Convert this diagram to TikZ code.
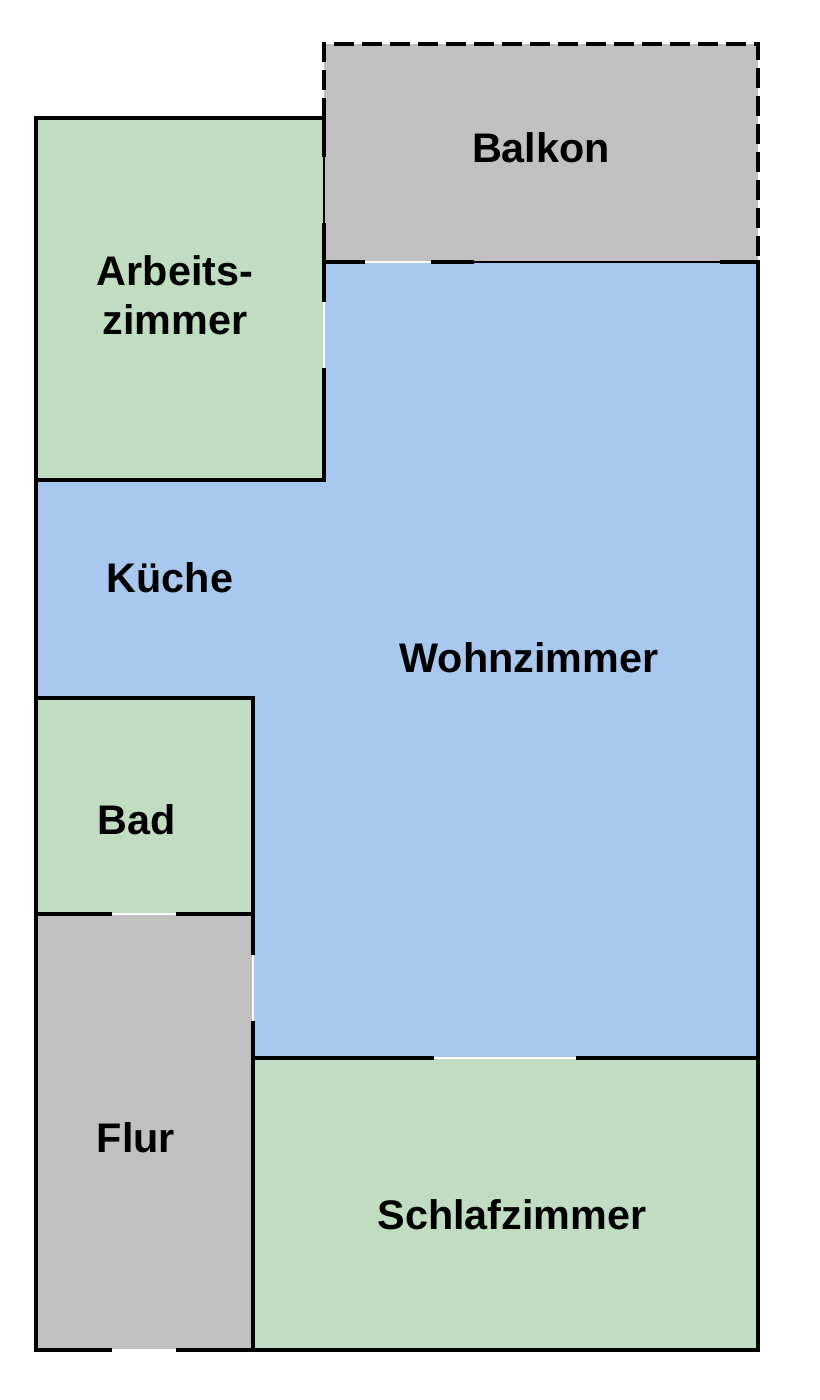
\documentclass[tikz,border=0pt]{standalone}
\usepackage{fontspec}
\setmainfont{Liberation Sans}
\definecolor{gruen}{RGB}{192,220,193}
\definecolor{blau}{RGB}{168,200,240}
\definecolor{grau}{RGB}{192,192,192}
\tikzset{
  wall/.style={line width=3pt, line cap=rect},
  thinwall/.style={line width=1pt},
  opening/.style={line width=1pt, white},
  balkonrand/.style={line width=3pt, dash pattern=on 15pt off 6pt},
  raumname/.style={font=\fontsize{31}{37}\selectfont\bfseries, align=center}
}
\begin{document}
\begin{tikzpicture}[x=0.75pt, y=-0.75pt]
  \useasboundingbox (0,0) rectangle (820,1400);
  % Raeume
  \fill[grau]  (324,44) rectangle (758,262);
  \fill[gruen] (36,118) rectangle (324,480);
  \fill[blau]  (324,262) -- (758,262) -- (758,1058) -- (253,1058)
    -- (253,698) -- (36,698) -- (36,480) -- (324,480) -- cycle;
  \fill[gruen] (36,698) rectangle (253,914);
  \fill[grau]  (36,914) rectangle (253,1350);
  \fill[gruen] (253,1058) rectangle (758,1350);
  % Oeffnungen
  \draw[opening] (324,300) -- (324,370);
  \draw[opening] (363,262) -- (433,262);
  \draw[opening] (110,914) -- (178,914);
  \draw[opening] (253,953) -- (253,1023);
  \draw[opening] (432,1058) -- (578,1058);
  \draw[opening] (110,1350) -- (178,1350);
  % Fenster
  \draw[thinwall] (324,155) -- (324,225);
  \draw[thinwall] (472,262) -- (722,262);
  % Balkon
  \draw[balkonrand] (324,118) -- (324,44) -- (758,44) -- (758,262);
  % Waende
  \draw[wall] (324,118) -- (36,118) -- (36,1350) -- (110,1350);
  \draw[wall] (178,1350) -- (758,1350) -- (758,262) -- (722,262);
  \draw[wall] (472,262) -- (433,262);
  \draw[wall] (363,262) -- (324,262);
  \draw[wall] (324,118) -- (324,155);
  \draw[wall] (324,225) -- (324,300);
  \draw[wall] (324,370) -- (324,480) -- (36,480);
  \draw[wall] (36,698) -- (253,698) -- (253,953);
  \draw[wall] (253,1023) -- (253,1350);
  \draw[wall] (36,914) -- (110,914);
  \draw[wall] (178,914) -- (253,914);
  \draw[wall] (253,1058) -- (432,1058);
  \draw[wall] (578,1058) -- (758,1058);
  % Beschriftung
  \node[raumname] (balkon)  at (541,148)  {Balkon};
  \node[raumname] (arbeit)  at (175,295)  {Arbeits-\\zimmer};
  \node[raumname] (kueche)  at (170,578)  {Küche};
  \node[raumname] (wohnen)  at (529,658)  {Wohnzimmer};
  \node[raumname] (bad)     at (137,820)  {Bad};
  \node[raumname] (flur)    at (136,1138) {Flur};
  \node[raumname] (schlafen) at (512,1215) {Schlafzimmer};
\end{tikzpicture}
\end{document}
